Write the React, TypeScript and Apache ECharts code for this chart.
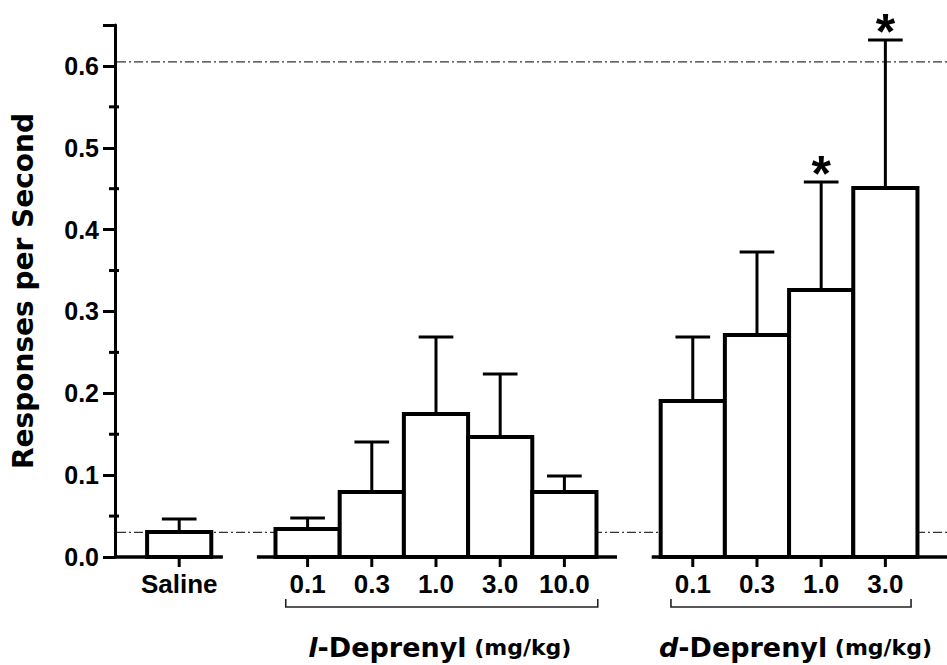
import React, { useEffect, useRef } from 'react';
import * as echarts from 'echarts';

// ---- data ----
const categories = ['Saline', '0.1', '0.3', '1.0', '3.0', '10.0', '0.1', '0.3', '1.0', '3.0'];
const slots = [1, 3, 4, 5, 6, 7, 9, 10, 11, 12];
const means = [0.0305, 0.0342, 0.0794, 0.1747, 0.1466, 0.0794, 0.1906, 0.2712, 0.3262, 0.4508];
const upperErrors = [0.0464, 0.0476, 0.1405, 0.2688, 0.2236, 0.099, 0.2688, 0.3726, 0.4582, 0.6316];
const significance = ['', '', '', '', '', '', '', '', '*', '*'];
const referenceLines = [0.03, 0.605];
const axisSegments = [[0, 1.68], [2.21, 7.82], [8.36, 12.96]];
const groupBrackets = [[2.66, 7.52], [8.66, 12.4]];
const groupTitleCenters = [5.06, 10.6];
const groupTitleDrugs = ['l', 'd'];
const groupTitleNames = ['-Deprenyl', '-Deprenyl'];
const groupTitleUnits = [' (mg/kg)', ' (mg/kg)'];
const minorTickValues = [0.05, 0.15, 0.25, 0.35, 0.45, 0.55];
const yAxisTitle = 'Responses per Second';
const Y_MAX = 0.65;
const X_MAX = 12.96;
const CAP_HALF = 0.27;

const ARIAL = '"Liberation Sans", Arial, Helvetica, sans-serif';
const WIDE = '"DejaVu Sans", "Liberation Sans", sans-serif';

export default function App() {
  const ref = useRef<HTMLDivElement>(null);
  useEffect(() => {
    if (!ref.current) return;
    const chart = echarts.init(ref.current, undefined, { renderer: 'svg' });

    const option: any = {
      animation: false,
      backgroundColor: '#fff',
      grid: { left: 115, right: 0, top: 25, bottom: 108, containLabel: false, outerBoundsMode: 'none' },
      xAxis: { type: 'value', min: 0, max: X_MAX, show: false },
      yAxis: {
        type: 'value',
        min: 0,
        max: Y_MAX,
        interval: 0.1,
        name: yAxisTitle,
        nameLocation: 'middle',
        nameRotate: 90,
        nameGap: 78,
        nameTextStyle: { fontFamily: WIDE, fontWeight: 'bold', fontSize: 28, color: '#000' },
        axisLine: { show: true, onZero: false, lineStyle: { color: '#000', width: 3 } },
        axisTick: { show: true, length: 12, lineStyle: { color: '#000', width: 3 } },
        splitLine: { show: false },
        axisLabel: {
          margin: 16,
          fontFamily: ARIAL,
          fontWeight: 'bold',
          fontSize: 25,
          color: '#000',
          formatter: (v: number) => (Math.abs(v * 10 - Math.round(v * 10)) < 1e-6 ? v.toFixed(1) : ''),
        },
      },
      series: [
        // reference dashed lines
        {
          type: 'custom',
          clip: false,
          z: 1,
          data: referenceLines.map((v) => [0, v]),
          renderItem: (params: any, api: any) => {
            const v = api.value(1);
            const a = api.coord([0, v]);
            const b = api.coord([X_MAX, v]);
            return {
              type: 'line',
              shape: { x1: a[0] + 2, y1: a[1], x2: b[0], y2: b[1] },
              style: { stroke: '#333', lineWidth: 1.2, lineDash: [9, 3, 2, 3] },
            };
          },
        },
        // minor y ticks
        {
          type: 'custom',
          clip: false,
          z: 2,
          data: minorTickValues.map((v) => [0, v]),
          renderItem: (params: any, api: any) => {
            const p = api.coord([0, api.value(1)]);
            return {
              type: 'line',
              shape: { x1: p[0] - 6, y1: p[1], x2: p[0] + 4, y2: p[1] },
              style: { stroke: '#000', lineWidth: 3 },
            };
          },
        },
        // x axis segments
        {
          type: 'custom',
          clip: false,
          z: 3,
          data: axisSegments,
          renderItem: (params: any, api: any) => {
            const a = api.coord([api.value(0), 0]);
            const b = api.coord([api.value(1), 0]);
            return {
              type: 'line',
              shape: { x1: a[0], y1: a[1], x2: b[0], y2: b[1] },
              style: { stroke: '#000', lineWidth: 3.5 },
            };
          },
        },
        // bars
        {
          type: 'custom',
          clip: false,
          z: 4,
          data: slots.map((s, i) => [s, means[i], upperErrors[i]]),
          renderItem: (params: any, api: any) => {
            const x = api.value(0);
            const m = api.value(1);
            const tl = api.coord([x - 0.5, m]);
            const br = api.coord([x + 0.5, 0]);
            return {
              type: 'rect',
              shape: { x: tl[0], y: tl[1], width: br[0] - tl[0], height: br[1] - tl[1] },
              style: { fill: '#fff', stroke: '#000', lineWidth: 4, lineJoin: 'miter' },
            };
          },
        },
        // error bars + significance
        {
          type: 'custom',
          clip: false,
          z: 5,
          data: slots.map((s, i) => [s, means[i], upperErrors[i], i]),
          renderItem: (params: any, api: any) => {
            const x = api.value(0);
            const m = api.value(1);
            const e = api.value(2);
            const idx = api.value(3);
            const base = api.coord([x, m]);
            const top = api.coord([x, e]);
            const cl = api.coord([x - CAP_HALF, e]);
            const cr = api.coord([x + CAP_HALF, e]);
            const children: any[] = [
              { type: 'line', shape: { x1: base[0], y1: base[1] - 2, x2: top[0], y2: top[1] }, style: { stroke: '#000', lineWidth: 3 } },
              { type: 'line', shape: { x1: cl[0], y1: cl[1], x2: cr[0], y2: cr[1] }, style: { stroke: '#000', lineWidth: 3 } },
            ];
            if (significance[idx]) {
              children.push({
                type: 'text',
                x: top[0],
                y: top[1] - 8,
                style: {
                  text: significance[idx],
                  fontFamily: ARIAL,
                  fontWeight: 'bold',
                  fontSize: 50,
                  fill: '#000',
                  align: 'center',
                  verticalAlign: 'middle',
                },
              });
            }
            return { type: 'group', children };
          },
        },
        // x tick marks and category labels
        {
          type: 'custom',
          clip: false,
          z: 6,
          data: slots.map((s, i) => [s, 0, i]),
          renderItem: (params: any, api: any) => {
            const p = api.coord([api.value(0), 0]);
            const idx = api.value(2);
            return {
              type: 'group',
              children: [
                { type: 'line', shape: { x1: p[0], y1: p[1], x2: p[0], y2: p[1] + 10 }, style: { stroke: '#000', lineWidth: 3 } },
                {
                  type: 'text',
                  x: p[0],
                  y: p[1] + 27,
                  style: {
                    text: categories[idx],
                    fontFamily: ARIAL,
                    fontWeight: 'bold',
                    fontSize: 26,
                    fill: '#000',
                    align: 'center',
                    verticalAlign: 'middle',
                  },
                },
              ],
            };
          },
        },
        // group brackets and titles
        {
          type: 'custom',
          clip: false,
          z: 6,
          data: groupBrackets.map((b, i) => [b[0], b[1], groupTitleCenters[i], i]),
          renderItem: (params: any, api: any) => {
            const a = api.coord([api.value(0), 0]);
            const b = api.coord([api.value(1), 0]);
            const c = api.coord([api.value(2), 0]);
            const idx = api.value(3);
            const y = a[1] + 50;
            return {
              type: 'group',
              children: [
                { type: 'polyline', shape: { points: [[a[0], y - 8], [a[0], y], [b[0], y], [b[0], y - 8]] }, style: { stroke: '#222', lineWidth: 1.6, fill: null } },
                {
                  type: 'text',
                  x: c[0],
                  y: a[1] + 90,
                  style: {
                    text: `{it|${groupTitleDrugs[idx]}}{b|${groupTitleNames[idx]}}{s|${groupTitleUnits[idx]}}`,
                    align: 'center',
                    verticalAlign: 'middle',
                    fill: '#000',
                    rich: {
                      it: { fontFamily: WIDE, fontStyle: 'italic', fontWeight: 'bold', fontSize: 27, fill: '#000' },
                      b: { fontFamily: WIDE, fontWeight: 'bold', fontSize: 27, fill: '#000' },
                      s: { fontFamily: WIDE, fontWeight: 'bold', fontSize: 22, fill: '#000' },
                    },
                  },
                },
              ],
            };
          },
        },
      ],
    };
    chart.setOption(option);
    return () => chart.dispose();
  }, []);

  return (
    <div
      ref={ref}
      style={{ position: 'absolute', left: 0, top: 0, width: 947, height: 665, background: '#fff' }}
    />
  );
}
